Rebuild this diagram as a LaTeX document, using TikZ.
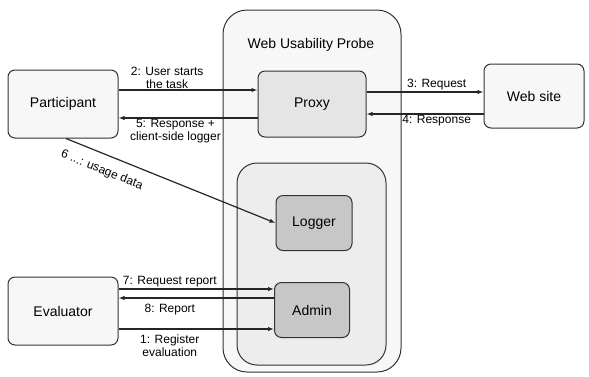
\documentclass[tikz,border=0pt]{standalone}
\usepackage{fontspec}
\setmainfont{Liberation Sans}
\usepackage{xcolor}
\usetikzlibrary{arrows.meta,positioning}

\begin{document}
\begin{tikzpicture}[x=1pt,y=-1pt,
  box/.style={draw=black!80,line width=1pt,rounded corners=7pt,align=center,
    font=\fontsize{14}{16}\selectfont},
  lbl/.style={font=\fontsize{12}{13}\selectfont,align=center,inner sep=1pt},
  msg/.style={-{Latex[length=6pt,width=4.5pt]},line width=1.2pt,draw=black!85}]

\useasboundingbox (0,0) rectangle (589,376);

\node (probe) at (312,191) [box,rounded corners=24pt,fill=black!3,minimum width=178pt,minimum height=362pt]{};
\node (title) at (311,45) [font=\fontsize{14}{16}\selectfont]{Web Usability Probe};
\node (core) at (311.5,264) [box,rounded corners=20pt,fill=black!7,minimum width=149pt,minimum height=202pt]{};

\node (part) at (63,104) [box,fill=black!3,minimum width=110pt,minimum height=68pt]{Participant};
\node (eval) at (63,311) [box,fill=black!3,minimum width=110pt,minimum height=68pt]{Evaluator};
\node (site) at (534,96) [box,fill=black!3,minimum width=100pt,minimum height=64pt]{Web site};
\node (proxy) at (312,104) [box,fill=black!10,minimum width=108pt,minimum height=66pt]{Proxy};
\node (logger) at (314,223) [box,fill=black!22,minimum width=76pt,minimum height=55pt]{Logger};
\node (admin) at (312,310) [box,fill=black!22,minimum width=75pt,minimum height=55pt]{Admin};

\draw[msg] ([yshift=14pt]part.east) -- ([yshift=14pt]part.east -| proxy.west)
  node[lbl,above,pos=0.35]{2: User starts\\the task};
\draw[msg] ([yshift=-14pt]part.east -| proxy.west) -- ([yshift=-14pt]part.east)
  node[lbl,below,pos=0.59]{5: Response +\\client-side logger};
\draw[msg] ([yshift=12pt]proxy.east) -- ([yshift=12pt]proxy.east -| site.west)
  node[lbl,above,pos=0.6]{3: Request};
\draw[msg] ([yshift=-10pt]proxy.east -| site.west) -- ([yshift=-10pt]proxy.east)
  node[lbl,below,pos=0.4]{4: Response};
\draw[msg] ([xshift=3pt]part.south) -- (logger.west)
  node[lbl,below=9pt,sloped,pos=0.2]{6 ...: usage data};

\draw[msg] ([yshift=22pt]eval.east) -- ([yshift=22pt]eval.east -| admin.west)
  node[lbl,above,pos=0.33]{7: Request report};
\draw[msg] ([yshift=13pt]eval.east -| admin.west) -- ([yshift=13pt]eval.east)
  node[lbl,below=5pt,pos=0.67]{8: Report};
\draw[msg] ([yshift=-18pt]eval.east) -- ([yshift=-18pt]eval.east -| admin.west)
  node[lbl,below=4pt,pos=0.33]{1: Register\\evaluation};

\end{tikzpicture}
\end{document}
